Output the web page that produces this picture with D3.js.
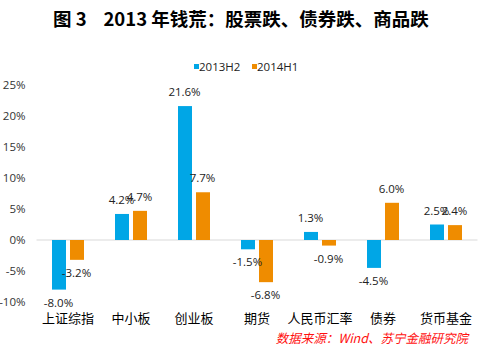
<!DOCTYPE html>
<html>
<head>
<meta charset="utf-8">
<script src="https://cdn.jsdelivr.net/npm/d3@7"></script>
<style>
  body { margin: 0; background: #fff; }
  svg { display: block; }
</style>
</head>
<body>
<div class="chart"></div>
<script>
// Data
var categories = ["上证综指", "中小板", "创业板", "期货", "人民币汇率", "债券", "货币基金"];
var series = ["2013H2", "2014H1"];
var values2013H2 = [-8.0, 4.2, 21.6, -1.5, 1.3, -4.5, 2.5];
var values2014H1 = [-3.2, 4.7, 7.7, -6.8, -0.9, 6.0, 2.4];
var yTicks = [-10, -5, 0, 5, 10, 15, 20, 25];

var width = 491, height = 350;
var margin = { top: 85, right: 13.5, bottom: 48, left: 36.5 };
var colors = ["#00A6E6", "#EF8C00"];
var numFont = "'Open Sans', 'Noto Sans', sans-serif";
var cjkFont = "'Noto Sans CJK SC', sans-serif";

var data = categories.map(function (c, i) {
    return { cat: c, vals: [values2013H2[i], values2014H1[i]] };
});

var svg = d3.select("div.chart")
    .append("svg")
    .attr("width", width)
    .attr("height", height);

// Scales
var x = d3.scaleBand()
    .domain(categories)
    .range([margin.left, width - margin.right])
    .paddingInner(0).paddingOuter(0);
var y = d3.scaleLinear()
    .domain([-10, 25])
    .range([302, 85]);

// Title (non-breaking spaces keep the wide gaps)
svg.append("text")
    .attr("x", 53)
    .attr("y", 26)
    .style("font-family", cjkFont)
    .style("font-size", "18.5px")
    .style("font-weight", "bold")
    .attr("fill", "#000")
    .text("图\u00A03\u00A0\u00A0\u00A0\u00A02013\u00A0年钱荒：股票跌、债券跌、商品跌");

// Legend
var legend = svg.append("g");
var legendX = [194, 252];
series.forEach(function (s, i) {
    legend.append("rect")
        .attr("x", legendX[i])
        .attr("y", 64)
        .attr("width", 5)
        .attr("height", 5)
        .attr("fill", colors[i]);
    legend.append("text")
        .attr("x", legendX[i] + 5)
        .attr("y", 71)
        .style("font-family", numFont)
        .style("font-size", "11.5px")
        .attr("fill", "#222")
        .text(s);
});

// Y axis (labels only)
svg.append("g")
    .attr("transform", "translate(" + margin.left + ",0)")
    .call(d3.axisLeft(y).tickValues(yTicks).tickSize(0).tickPadding(11)
        .tickFormat(function (d) { return d + "%"; }))
    .call(function (g) { g.select(".domain").remove(); })
    .call(function (g) {
        g.selectAll(".tick text")
            .attr("fill", "#333")
            .style("font-family", numFont)
            .style("font-size", "11.5px");
    });

// Zero line
svg.append("line")
    .attr("x1", margin.left)
    .attr("x2", width - margin.right)
    .attr("y1", y(0))
    .attr("y2", y(0))
    .attr("stroke", "#D9D9D9")
    .attr("stroke-width", 1);

// Bars
var barW = 14, offset = 9;
var groups = svg.append("g")
    .selectAll("g")
    .data(data)
    .join("g")
        .attr("transform", function (d) { return "translate(" + (x(d.cat) + x.bandwidth() / 2) + ",0)"; });

groups.selectAll("rect")
    .data(function (d) { return d.vals; })
    .join("rect")
        .attr("x", function (v, i) { return (i === 0 ? -offset : offset) - barW / 2; })
        .attr("y", function (v) { return y(Math.max(0, v)); })
        .attr("width", barW)
        .attr("height", function (v) { return Math.abs(y(v) - y(0)); })
        .attr("fill", function (v, i) { return colors[i]; });

// Value labels
groups.selectAll("text")
    .data(function (d) { return d.vals; })
    .join("text")
        .attr("x", function (v, i) { return (i === 0 ? -offset : offset) - 0.5; })
        .attr("y", function (v) { return v >= 0 ? y(v) - 10 : y(v) + 17; })
        .attr("text-anchor", "middle")
        .style("font-family", numFont)
        .style("font-size", "11.5px")
        .attr("fill", "#222")
        .text(function (v) { return v.toFixed(1) + "%"; });

// Category labels
svg.append("g")
    .selectAll("text")
    .data(categories)
    .join("text")
        .attr("x", function (d) { return x(d) + x.bandwidth() / 2; })
        .attr("y", 323)
        .attr("text-anchor", "middle")
        .style("font-family", cjkFont)
        .style("font-size", "13px")
        .attr("fill", "#000")
        .text(function (d) { return d; });

// Source note
svg.append("text")
    .attr("x", 468)
    .attr("y", 343)
    .attr("text-anchor", "end")
    .style("font-family", cjkFont)
    .style("font-size", "12.5px")
    .style("font-style", "italic")
    .attr("fill", "#FF1010")
    .text("数据来源：Wind、苏宁金融研究院");
</script>
</body>
</html>
